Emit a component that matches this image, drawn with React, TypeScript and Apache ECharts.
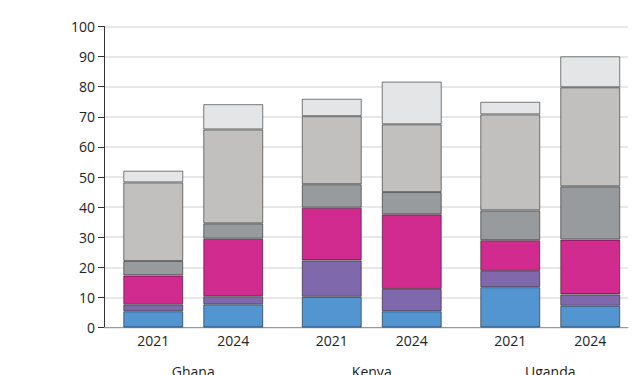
import React, { useEffect, useRef } from "react";
import * as echarts from "echarts";

const countries = ["Ghana", "Kenya", "Uganda"];
const years = ["2021", "2024"];
const yTicks = { min: 0, max: 100, interval: 10 };

const segmentNames = ["Segment 1", "Segment 2", "Segment 3", "Segment 4", "Segment 5", "Segment 6"];
const segmentColors = ["#5395D0", "#7F68AC", "#D12B8F", "#989B9E", "#C1C0BE", "#E4E5E7"];

// values per segment, [Ghana, Kenya, Uganda]
const seg1_2021 = [5.4, 10.2, 13.4];
const seg1_2024 = [7.7, 5.4, 7.2];
const seg2_2021 = [2.3, 12.1, 5.4];
const seg2_2024 = [2.7, 7.4, 3.8];
const seg3_2021 = [9.6, 17.5, 10.2];
const seg3_2024 = [19.1, 24.8, 18.2];
const seg4_2021 = [4.8, 7.8, 9.9];
const seg4_2024 = [5.1, 7.4, 17.7];
const seg5_2021 = [26.1, 22.6, 31.9];
const seg5_2024 = [31.2, 22.5, 32.9];
const seg6_2021 = [3.9, 5.8, 4.2];
const seg6_2024 = [8.4, 14.2, 10.3];

const data2021 = [seg1_2021, seg2_2021, seg3_2021, seg4_2021, seg5_2021, seg6_2021];
const data2024 = [seg1_2024, seg2_2024, seg3_2024, seg4_2024, seg5_2024, seg6_2024];

export default function App() {
  const ref = useRef<HTMLDivElement>(null);
  useEffect(() => {
    if (!ref.current) return;
    const chart = echarts.init(ref.current, null, { renderer: "svg" });
    const font = "'Open Sans', 'Noto Sans', sans-serif";
    const series: any[] = [];
    const yearData = [data2021, data2024];
    years.forEach((yr, yi) => {
      yearData[yi].forEach((vals, si) => {
        series.push({
          type: "bar",
          name: segmentNames[si] + " " + yr,
          stack: yr,
          xAxisIndex: 1,
          yAxisIndex: 1,
          barWidth: 60,
          barGap: "33.33%",
          data: vals,
          itemStyle: {
            color: segmentColors[si],
            borderColor: "rgba(0,0,0,0.5)",
            borderWidth: 1,
          },
          label:
            si === 0
              ? {
                  show: true,
                  position: "bottom",
                  distance: 6,
                  formatter: () => yr,
                  color: "#222",
                  fontSize: 14,
                  fontFamily: font,
                }
              : { show: false },
        });
      });
    });

    chart.setOption({
      animation: false,
      backgroundColor: "#fff",
      grid: [
        { left: 104, right: 15, top: 26.5, bottom: 47.5, outerBoundsMode: "none", containLabel: false },
        { left: 104, right: 3.5, top: 26.5, bottom: 47.5, outerBoundsMode: "none", containLabel: false },
      ],
      xAxis: [
        {
          type: "category",
          gridIndex: 0,
          data: [""],
          axisLine: { show: true, lineStyle: { color: "#999", width: 1 } },
          axisTick: { show: false },
          axisLabel: { show: false },
        },
        {
          type: "category",
          gridIndex: 1,
          data: countries,
          axisLine: { show: false },
          axisTick: { show: false },
          axisLabel: {
            show: true,
            margin: 37,
            fontSize: 14,
            color: "#222",
            fontFamily: font,
          },
        },
      ],
      yAxis: [
        {
          type: "value",
          gridIndex: 0,
          min: yTicks.min,
          max: yTicks.max,
          interval: yTicks.interval,
          axisLine: { show: true, lineStyle: { color: "#333", width: 1 } },
          axisTick: { show: true, length: 6, lineStyle: { color: "#333" } },
          axisLabel: { margin: 9, fontSize: 14, color: "#222", fontFamily: font },
          splitLine: { show: true, lineStyle: { color: "#e0e0e0", width: 1.5 } },
        },
        {
          type: "value",
          gridIndex: 1,
          min: yTicks.min,
          max: yTicks.max,
          show: false,
          splitLine: { show: false },
        },
      ],
      series,
    });
    return () => chart.dispose();
  }, []);
  return (
    <div
      ref={ref}
      style={{ position: "fixed", left: 0, top: 0, width: 643, height: 375 }}
    />
  );
}
